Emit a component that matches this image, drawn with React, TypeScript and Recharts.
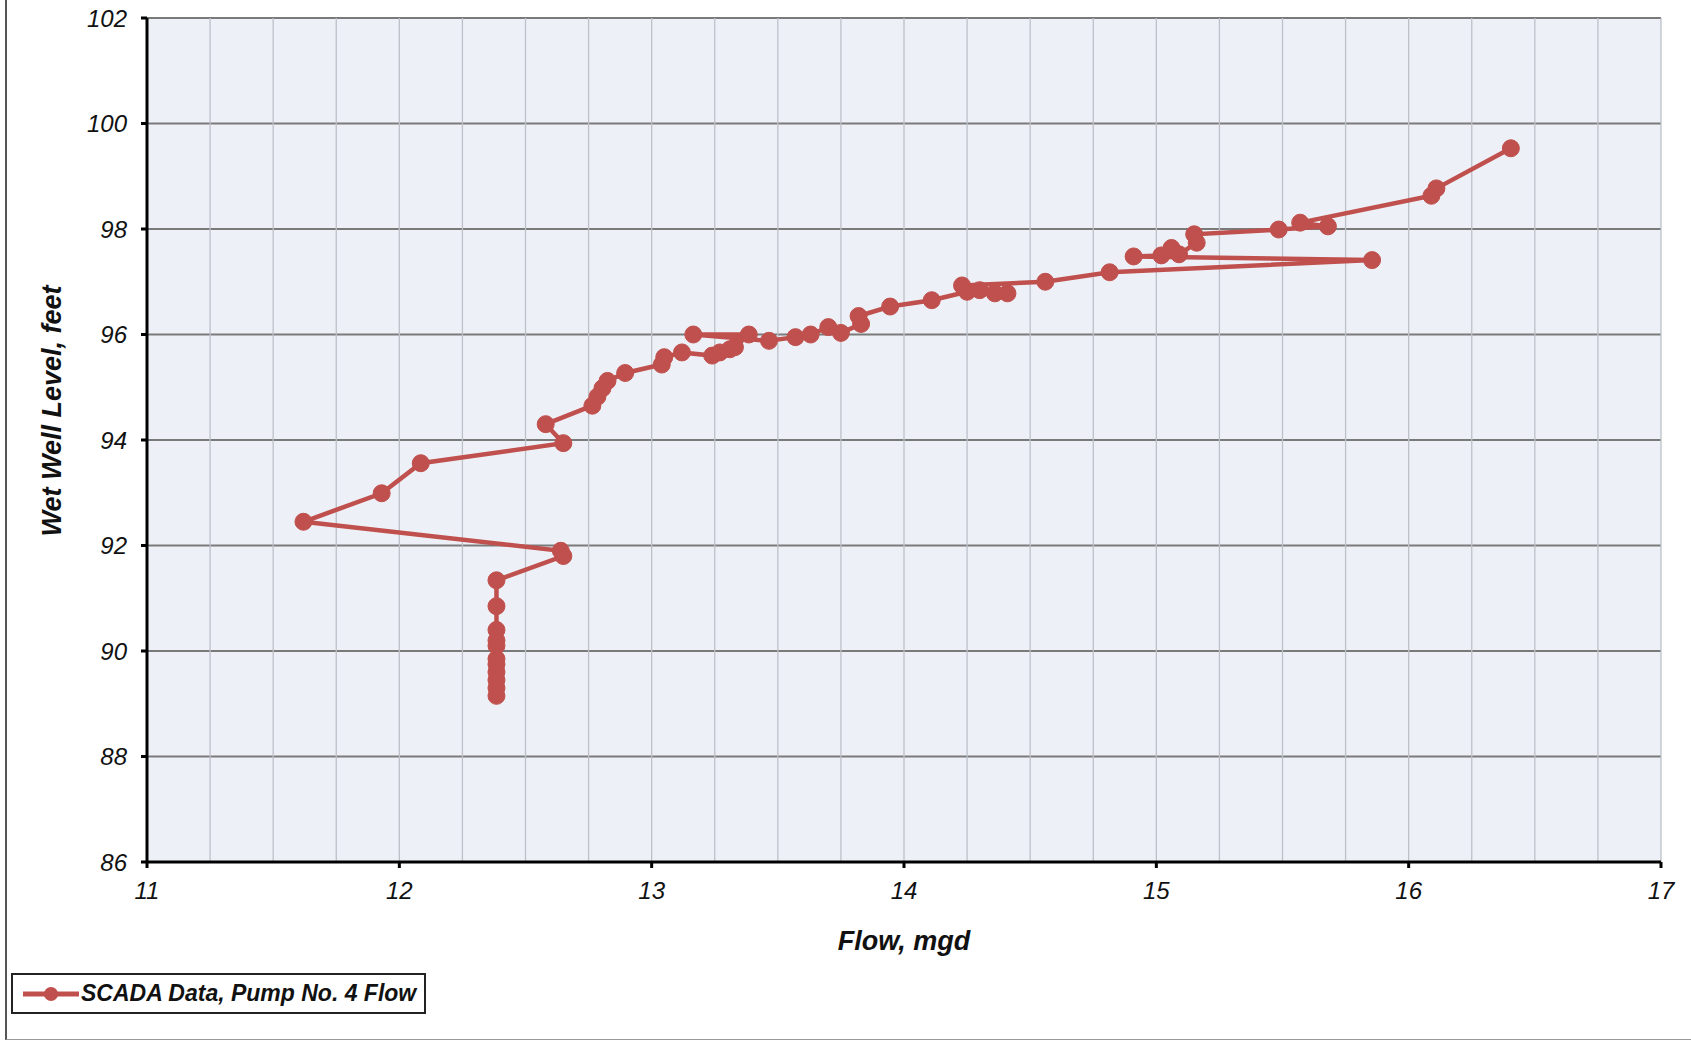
import React from "react";
import { CartesianGrid, Line, LineChart, ReferenceLine, XAxis, YAxis } from "recharts";

// SCADA readings, in time order
const flowMgd = [
  12.385, 12.385, 12.385, 12.385, 12.385, 12.385, 12.385, 12.385, 12.385, 12.385, 12.385,
  12.65, 12.64, 11.62, 11.93, 12.085, 12.65, 12.58, 12.765, 12.785, 12.805, 12.825, 12.895,
  13.04, 13.05, 13.12, 13.24, 13.27, 13.31, 13.33, 13.385, 13.165, 13.465, 13.57, 13.63,
  13.7, 13.75, 13.83, 13.82, 13.945, 14.11, 14.25, 14.3, 14.36, 14.41, 14.23, 14.56,
  14.815, 15.855, 14.91, 15.02, 15.06, 15.09, 15.16, 15.15, 15.485, 15.68, 15.57, 16.09,
  16.11, 16.405,
];
const wetWellLevel = [
  89.15, 89.3, 89.45, 89.6, 89.75, 89.85, 90.1, 90.2, 90.4, 90.85, 91.34,
  91.8, 91.9, 92.45, 92.99, 93.56, 93.94, 94.3, 94.65, 94.82, 94.98, 95.12, 95.27,
  95.43, 95.57, 95.66, 95.6, 95.66, 95.72, 95.76, 96.0, 96.0, 95.88, 95.95, 96.0,
  96.14, 96.03, 96.2, 96.35, 96.53, 96.65, 96.81, 96.84, 96.78, 96.78, 96.93, 97.0,
  97.18, 97.41, 97.48, 97.5, 97.64, 97.52, 97.74, 97.9, 97.99, 98.05, 98.12, 98.63,
  98.77, 99.53,
];

const xTicks = [11, 12, 13, 14, 15, 16, 17];
const yTicks = [86, 88, 90, 92, 94, 96, 98, 100, 102];
const xMinorLines = [
  11.25, 11.5, 11.75, 12, 12.25, 12.5, 12.75, 13, 13.25, 13.5, 13.75, 14, 14.25, 14.5,
  14.75, 15, 15.25, 15.5, 15.75, 16, 16.25, 16.5, 16.75, 17,
];

const data = flowMgd.map((flow, i) => ({ flow, level: wetWellLevel[i] }));

const RED = "#c0504d";
const FONT = "'Liberation Sans', Arial, sans-serif";

const tickStyle = {
  fill: "#111",
  fontSize: 24,
  fontStyle: "italic" as const,
  fontFamily: FONT,
};

export default function App() {
  return (
    <div
      style={{
        position: "absolute",
        left: 0,
        top: 0,
        width: 1691,
        height: 1044,
        background: "#fff",
        fontFamily: FONT,
      }}
    >
      <div
        style={{
          position: "absolute",
          left: 5,
          top: 0,
          width: 1686,
          height: 1040,
          borderLeft: "2px solid #555",
          borderBottom: "1px solid #999",
          boxSizing: "border-box",
        }}
      />
      <LineChart
        width={1691}
        height={1044}
        data={data}
        margin={{ top: 18, right: 30, left: 0, bottom: 0 }}
      >
        <CartesianGrid
          vertical={false}
          stroke="#7a7a7a"
          strokeWidth={2}
          fill="#edf1f7"
          fillOpacity={1}
        />
        {xMinorLines.map((v) => (
          <ReferenceLine key={v} x={v} stroke="#bcc0c8" strokeWidth={1.3} />
        ))}
        <XAxis
          type="number"
          dataKey="flow"
          domain={[11, 17]}
          ticks={xTicks}
          allowDataOverflow
          height={182}
          stroke="#000"
          strokeWidth={3}
          tickSize={6}
          tickMargin={14}
          tickLine={{ stroke: "#000", strokeWidth: 3 }}
          tick={tickStyle}
        />
        <YAxis
          type="number"
          dataKey="level"
          domain={[86, 102]}
          ticks={yTicks}
          allowDataOverflow
          width={147}
          stroke="#000"
          strokeWidth={3}
          tickSize={6}
          tickMargin={14}
          tickLine={{ stroke: "#000", strokeWidth: 3 }}
          tick={tickStyle}
        />
        <Line
          type="linear"
          dataKey="level"
          stroke={RED}
          strokeWidth={4.5}
          dot={{ r: 8.5, fill: RED, stroke: RED, strokeWidth: 1 }}
          activeDot={false}
          isAnimationActive={false}
        />
      </LineChart>

      <div
        style={{
          position: "absolute",
          left: 904,
          top: 941,
          transform: "translate(-50%, -50%)",
          fontSize: 27,
          fontWeight: "bold",
          fontStyle: "italic",
          color: "#111",
          whiteSpace: "nowrap",
        }}
      >
        Flow, mgd
      </div>
      <div
        style={{
          position: "absolute",
          left: 52,
          top: 411,
          transform: "translate(-50%, -50%) rotate(-90deg)",
          fontSize: 27,
          fontWeight: "bold",
          fontStyle: "italic",
          color: "#111",
          whiteSpace: "nowrap",
        }}
      >
        Wet Well Level, feet
      </div>

      <div
        style={{
          position: "absolute",
          left: 11,
          top: 973,
          width: 415,
          height: 41,
          border: "2px solid #222",
          boxSizing: "border-box",
          background: "#fff",
          display: "flex",
          alignItems: "center",
        }}
      >
        <svg width={58} height={20} style={{ marginLeft: 10 }}>
          <line x1={0} y1={10} x2={56} y2={10} stroke={RED} strokeWidth={5} />
          <circle cx={28} cy={10} r={7} fill={RED} />
        </svg>
        <span
          style={{
            fontSize: 23,
            fontWeight: "bold",
            fontStyle: "italic",
            color: "#111",
            whiteSpace: "nowrap",
          }}
        >
          SCADA Data, Pump No. 4 Flow
        </span>
      </div>
    </div>
  );
}
